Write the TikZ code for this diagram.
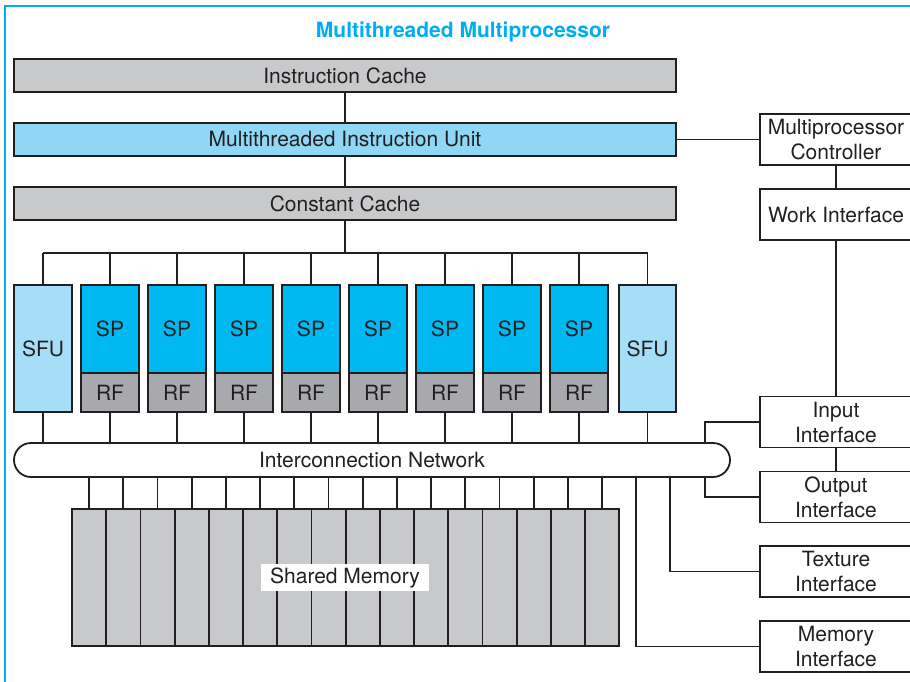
\documentclass[tikz,border=0pt]{standalone}
\usepackage{fontspec}
\setmainfont{TeX Gyre Heros}
\definecolor{framecyan}{RGB}{0,174,239}
\definecolor{spblue}{RGB}{0,185,241}
\definecolor{sfublue}{RGB}{166,221,247}
\definecolor{unitblue}{RGB}{143,215,244}
\definecolor{rfgray}{RGB}{167,169,172}
\definecolor{cachegray}{RGB}{200,201,203}
\definecolor{linegray}{RGB}{35,31,32}
\begin{document}
\begin{tikzpicture}[x=1pt,y=-1pt,line width=1.8pt,draw=linegray,
        font=\fontsize{21}{25}\selectfont,
        blk/.style={draw=linegray,inner sep=0pt,text=linegray},
        wide/.style={blk,minimum width=662,minimum height=33},
        sp/.style={blk,fill=spblue,minimum width=58,minimum height=88},
        rf/.style={blk,fill=rfgray,minimum width=58,minimum height=39},
        sfu/.style={blk,fill=sfublue,minimum width=58,minimum height=127},
        bank/.style={blk,fill=cachegray,minimum width=34.2,minimum height=137},
        iface/.style={blk,fill=white,minimum width=152,minimum height=51,align=center}]
        \useasboundingbox (0,0) rectangle (910,681);
        \draw[framecyan,line width=2pt] (5,6) rectangle (930,700);
        \node[text=framecyan,font=\fontsize{21}{25}\selectfont\bfseries] (title) at (463,32) {Multithreaded Multiprocessor};
        % control path
        \node[wide,fill=cachegray] (icache) at (345,75.5) {Instruction Cache};
        \node[wide,fill=unitblue] (iunit) at (345,139.5) {Multithreaded Instruction Unit};
        \node[wide,fill=cachegray] (ccache) at (345,203.5) {Constant Cache};
        \draw (icache) -- (iunit);
        \draw (iunit) -- (ccache);
        \coordinate (busL) at (43,253);
        \coordinate (busR) at (647.5,253);
        \draw (ccache) -- (ccache |- busL);
        \draw (busL) -- (busR);
        % processors
        \node[sfu] (sfu1) at (43,348.5) {SFU};
        \node[sfu,minimum width=57] (sfu2) at (647.5,348.5) {SFU};
        \foreach \i in {1,...,8}{
        \node[sp] (sp\i) at (43+67*\i,329) {SP};
        \node[rf] (rf\i) at (43+67*\i,392.5) {RF};
        \draw (sp\i.north) -- (sp\i.north |- busL);
        }
        \node[blk,fill=white,rounded corners=17,minimum width=716,minimum height=34] (net) at (372,460) {Interconnection Network};
        \foreach \u in {sfu1,sfu2,rf1,rf2,rf3,rf4,rf5,rf6,rf7,rf8}
        \draw (\u.south) -- (\u.south |- net.north);
        \draw (sfu1.north) -- (sfu1.north |- busL);
        \draw (sfu2.north) -- (sfu2.north |- busR);
        % shared memory banks
        \foreach \k in {0,...,15}{
        \node[bank] (m\k) at (89.1+34.2*\k,577.5) {};
        \draw (m\k.north) -- (m\k.north |- net.south);
        }
        \node[fill=white,inner xsep=9pt,inner ysep=3pt,text=linegray] (smem) at (345,577.5) {Shared Memory};
        % interfaces
        \node[iface] (mpc) at (836,139.5) {Multiprocessor\\Controller};
        \node[iface] (work) at (836,214.5) {Work Interface};
        \node[iface] (input) at (836,422) {Input\\Interface};
        \node[iface] (output) at (836,497) {Output\\Interface};
        \node[iface] (texture) at (836,571.5) {Texture\\Interface};
        \node[iface] (memory) at (836,646.5) {Memory\\Interface};
        \draw (iunit) -- (mpc);
        \draw (mpc) -- (work);
        \draw (work) -- (input);
        \draw (input) -- (output);
        \draw (input.west) -| ([xshift=-26]net.north east);
        \draw (output.west) -| ([xshift=-26]net.south east);
        \draw (texture.west) -| ([xshift=-61]net.south east);
        \draw (memory.west) -| ([xshift=-95]net.south east);
    \end{tikzpicture}
\end{document}
